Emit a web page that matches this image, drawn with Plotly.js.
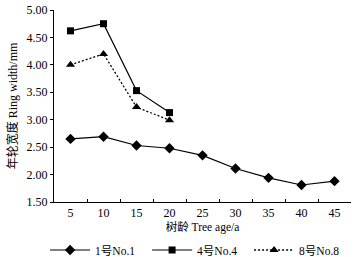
<!DOCTYPE html>
<html>
<head>
<meta charset="utf-8">
<script src="https://cdn.plot.ly/plotly-3.0.1.min.js"></script>
<style>html,body{margin:0;padding:0;background:#fff;}#chart{width:357px;height:257px;}</style>
</head>
<body>
<div id="chart"></div>
<script>
const ages = ["5","10","15","20","25","30","35","40","45"];
const no1 = [2.65, 2.69, 2.53, 2.48, 2.35, 2.11, 1.94, 1.81, 1.88];
const no4 = [4.62, 4.75, 3.53, 3.13];
const no8 = [4.00, 4.20, 3.23, 2.99];
const yTicks = [1.5, 2.0, 2.5, 3.0, 3.5, 4.0, 4.5, 5.0];
const names = ["1号No.1", "4号No.4", "8号No.8"];

const F = "'Liberation Serif', 'Times New Roman', 'Noto Sans CJK SC', serif";

const traces = [
  {x: ages, y: no1, name: names[0], type: "scatter", mode: "lines+markers",
   line: {color: "#000", width: 1.2},
   marker: {symbol: "diamond", size: 8, color: "#000"}},
  {x: ages.slice(0, no4.length), y: no4, name: names[1], type: "scatter", mode: "lines+markers",
   line: {color: "#000", width: 1.2},
   marker: {symbol: "square", size: 7, color: "#000"}},
  {x: ages.slice(0, no8.length), y: no8, name: names[2], type: "scatter", mode: "lines+markers",
   line: {color: "#000", width: 1.3, dash: "2px,2px"},
   marker: {symbol: "triangle-up", size: 8, color: "#000"}}
];

const layout = {
  width: 357, height: 257,
  margin: {l: 54, r: 6, t: 10, b: 55, autoexpand: false},
  paper_bgcolor: "#fff", plot_bgcolor: "#fff",
  font: {family: F, size: 12, color: "#000"},
  showlegend: true,
  legend: {orientation: "h", x: -0.03, xanchor: "left", y: -0.25, yanchor: "middle",
           font: {family: F, size: 11.5, color: "#000"}, itemwidth: 40,
           entrywidth: 47, entrywidthmode: "pixels", tracegroupgap: 0,
           bgcolor: "rgba(0,0,0,0)"},
  xaxis: {
    type: "category", categoryorder: "array", categoryarray: ages,
    range: [-0.5, 8.5],
    showline: true, linecolor: "#000", linewidth: 1,
    ticks: "inside", ticklen: 3, tickcolor: "#000", tickson: "boundaries",
    showgrid: false, zeroline: false,
    tickfont: {family: F, size: 12},
    ticklabelstandoff: 0,
    title: {text: "树龄 Tree age/a", font: {family: F, size: 11.5}, standoff: 0}
  },
  yaxis: {
    range: [1.5, 5.0], tickvals: yTicks, ticktext: yTicks.map(v => v.toFixed(2)),
    showline: true, linecolor: "#000", linewidth: 1,
    ticks: "outside", ticklen: 3, tickcolor: "#000",
    showgrid: false, zeroline: false,
    tickfont: {family: F, size: 12},
    title: {text: "年轮宽度 Ring width/mm", font: {family: F, size: 12}, standoff: 6}
  }
};

Plotly.newPlot("chart", traces, layout, {displayModeBar: false, staticPlot: true});
</script>
</body>
</html>
